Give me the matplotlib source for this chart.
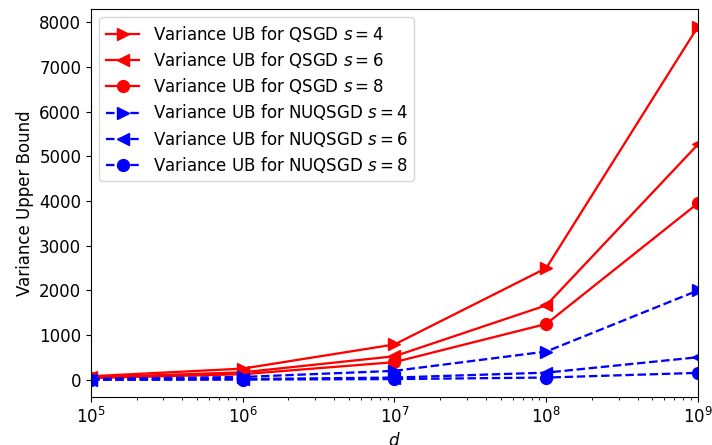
import matplotlib
matplotlib.use("Agg")
import matplotlib.pyplot as plt

d = [1e5, 1e6, 1e7, 1e8, 1e9]
qsgd_s4 = [79, 250, 791, 2500, 7906]
qsgd_s6 = [53, 167, 527, 1667, 5270]
qsgd_s8 = [40, 125, 395, 1250, 3953]
nuq_s4 = [20, 63, 200, 632, 2000]
nuq_s6 = [5, 16, 50, 160, 505]
nuq_s8 = [2, 5, 16, 50, 155]

labels = [
    r"Variance UB for QSGD $s=4$",
    r"Variance UB for QSGD $s=6$",
    r"Variance UB for QSGD $s=8$",
    r"Variance UB for NUQSGD $s=4$",
    r"Variance UB for NUQSGD $s=6$",
    r"Variance UB for NUQSGD $s=8$",
]

plt.rcParams['font.size'] = 12
plt.rcParams['mathtext.fontset'] = 'dejavusans'
fig, ax = plt.subplots(figsize=(7.12, 4.45), dpi=100)
ms = 8.5
lw = 1.65
ax.plot(d, qsgd_s4, 'r-', marker='>', ms=ms, lw=lw, label=labels[0])
ax.plot(d, qsgd_s6, 'r-', marker='<', ms=ms, lw=lw, label=labels[1])
ax.plot(d, qsgd_s8, 'r-', marker='o', ms=ms, lw=lw, label=labels[2])
ax.plot(d, nuq_s4, 'b--', marker='>', ms=ms, lw=lw, label=labels[3])
ax.plot(d, nuq_s6, 'b--', marker='<', ms=ms, lw=lw, label=labels[4])
ax.plot(d, nuq_s8, 'b--', marker='o', ms=ms, lw=lw, label=labels[5])
ax.set_xscale('log')
ax.set_xlim(1e5, 1e9)
ax.set_ylim(-385, 8301)
ax.set_xlabel(r"$d$")
ax.set_ylabel("Variance Upper Bound")
ax.legend(loc='upper left', labelspacing=0.37)
fig.subplots_adjust(left=0.1278, right=0.9803, top=0.9798, bottom=0.1079)
fig.savefig("out.png", dpi=100)
